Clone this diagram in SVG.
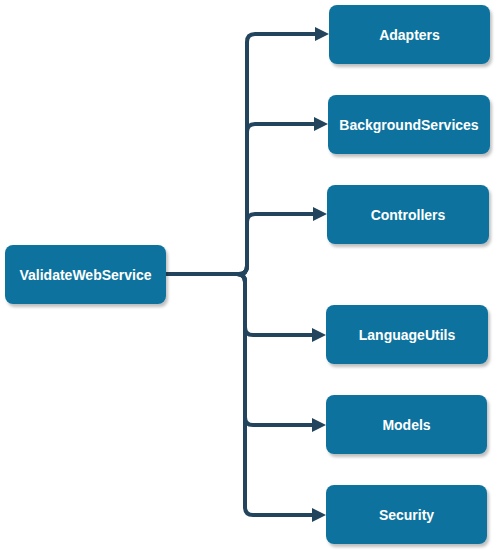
<svg xmlns="http://www.w3.org/2000/svg" width="496" height="551" viewBox="0 0 496 551">
  <style>
    .node rect { fill: #10739e; }
    .node text { fill: #ffffff; font-family: "Liberation Sans", Arial, sans-serif; font-weight: bold; font-size: 14px; text-anchor: middle; dominant-baseline: central; }
    .edge { fill: none; stroke: #23445d; stroke-width: 4; stroke-linejoin: round; marker-end: url(#arrow); }
  </style>
  <defs>
    <filter id="shadow" x="-10%" y="-10%" width="130%" height="140%">
      <feDropShadow dx="2" dy="3" stdDeviation="1.5" flood-color="#000000" flood-opacity="0.25"/>
    </filter>
    <marker id="arrow" markerUnits="userSpaceOnUse" markerWidth="16" markerHeight="16" refX="0" refY="7" orient="auto">
      <path d="M0,0 L14,7 L0,14 Z" fill="#23445d"/>
    </marker>
  </defs>
  <rect width="496" height="551" fill="#ffffff"/>
  <g id="connectors">
    <path class="edge" d="M166,274 H239 Q247,274 247,266 V42 Q247,34 255,34 H315"/>
    <path class="edge" d="M166,274 H239 Q247,274 247,266 V132 Q247,124 255,124 H314"/>
    <path class="edge" d="M166,274 H239 Q247,274 247,266 V222 Q247,214 255,214 H313"/>
    <path class="edge" d="M166,274 H237 Q245,274 245,282 V327 Q245,335 253,335 H312"/>
    <path class="edge" d="M166,274 H237 Q245,274 245,282 V417 Q245,425 253,425 H312"/>
    <path class="edge" d="M166,274 H237 Q245,274 245,282 V507 Q245,515 253,515 H312"/>
  </g>
  <g id="ValidateWebService" class="node">
    <rect x="5" y="245" width="161" height="59" rx="8" filter="url(#shadow)"/>
    <text x="85.5" y="274.5">ValidateWebService</text>
  </g>
  <g id="Adapters" class="node">
    <rect x="329" y="5" width="161" height="59" rx="8" filter="url(#shadow)"/>
    <text x="409.5" y="34.5">Adapters</text>
  </g>
  <g id="BackgroundServices" class="node">
    <rect x="328" y="95" width="162" height="59" rx="8" filter="url(#shadow)"/>
    <text x="409" y="124.5">BackgroundServices</text>
  </g>
  <g id="Controllers" class="node">
    <rect x="327" y="185" width="162" height="59" rx="8" filter="url(#shadow)"/>
    <text x="408" y="214.5">Controllers</text>
  </g>
  <g id="LanguageUtils" class="node">
    <rect x="326" y="305" width="162" height="59" rx="8" filter="url(#shadow)"/>
    <text x="407" y="334.5">LanguageUtils</text>
  </g>
  <g id="Models" class="node">
    <rect x="326" y="395" width="161" height="59" rx="8" filter="url(#shadow)"/>
    <text x="406.5" y="424.5">Models</text>
  </g>
  <g id="Security" class="node">
    <rect x="326" y="485" width="161" height="59" rx="8" filter="url(#shadow)"/>
    <text x="406.5" y="514.5">Security</text>
  </g>
</svg>
